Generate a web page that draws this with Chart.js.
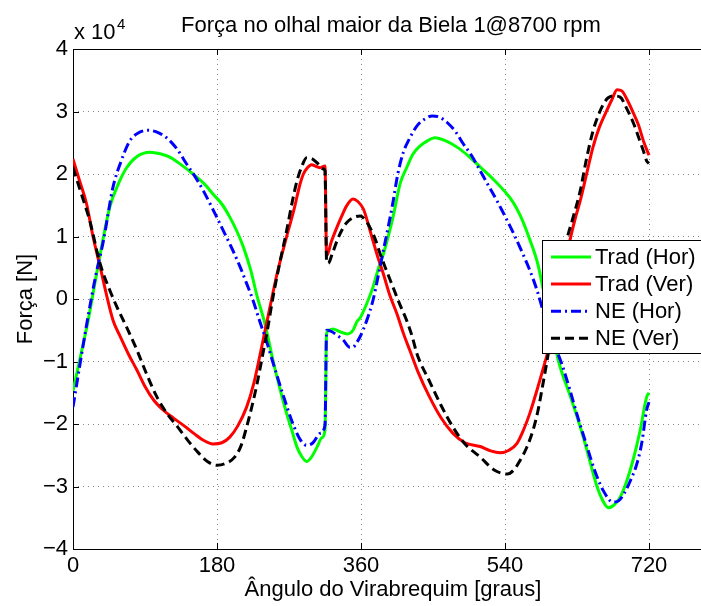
<!DOCTYPE html>
<html>
<head>
<meta charset="utf-8">
<script src="https://cdn.jsdelivr.net/npm/chart.js@4"></script>
<style>
  body { margin: 0; overflow: hidden; background: #fff; }
</style>
</head>
<body>
<canvas id="forca" width="720" height="606"></canvas>
<script>
// angles in degrees, forces in N (axis shows x 10^4)
const tradHorAng = [0, 10, 19, 23, 31, 46, 57, 67, 80, 96, 110, 121, 135, 150, 165, 175, 186, 196, 205, 213, 222, 230, 240, 251, 260, 267, 274, 280, 286, 292, 298, 305, 311, 315, 317, 320, 325, 333, 343, 350, 355, 359, 367, 375, 382, 388, 394, 400, 409, 417, 425, 434, 443, 452, 466, 480, 495, 510, 525, 539, 550, 560, 571, 581, 588, 597, 607, 622, 631, 639, 647, 655, 662, 669, 676, 684, 692, 700, 709, 717, 720];
const tradHorVal = [-14700, -8800, -3400, -600, 5100, 14700, 18500, 21000, 22800, 23500, 23200, 22700, 21500, 20000, 18300, 16800, 15200, 13100, 10800, 8300, 4700, 500, -4000, -10400, -15000, -18300, -21200, -23700, -25200, -26000, -25300, -23700, -22200, -21000, -5500, -5000, -4800, -5200, -5600, -5000, -3600, -3000, -800, 1900, 5000, 7200, 10000, 13100, 18500, 21000, 23200, 24500, 25300, 25800, 25300, 24300, 22800, 21000, 19200, 17300, 15500, 13100, 9500, 5600, 1400, -4000, -10000, -15700, -19200, -22600, -26400, -30000, -32200, -33400, -33000, -31700, -29200, -25800, -21000, -15700, -15000];

const tradVerAng = [0, 8, 17, 25, 34, 42, 50, 59, 70, 80, 90, 101, 113, 126, 139, 151, 163, 175, 186, 196, 206, 217, 226, 234, 241, 248, 255, 266, 277, 283, 288, 293, 298, 304, 309, 315, 317, 323, 330, 336, 342, 350, 356, 363, 369, 375, 381, 388, 396, 405, 413, 421, 432, 445, 460, 475, 490, 509, 522, 534, 545, 555, 563, 571, 579, 586, 594, 601, 608, 614, 621, 628, 634, 642, 650, 658, 667, 674, 680, 686, 693, 701, 707, 713, 720];
const tradVerVal = [22400, 19000, 15200, 10000, 5100, 600, -3400, -6000, -9000, -11400, -14000, -16200, -17800, -19100, -20300, -21500, -22600, -23200, -23000, -22100, -20300, -17300, -13500, -8800, -4500, -200, 4000, 9500, 14700, 18000, 20000, 21000, 21500, 21200, 21000, 21300, 6900, 9200, 11500, 13300, 14900, 16000, 15600, 14400, 12000, 9300, 6700, 4000, 600, -2400, -5500, -8200, -11900, -15500, -19000, -21500, -23000, -23600, -24300, -24600, -24200, -23100, -21000, -18300, -15000, -11900, -8200, -4000, 500, 5000, 9300, 13000, 15700, 20000, 24300, 27500, 30100, 32000, 33500, 33300, 31800, 29600, 27800, 25300, 23000];

const neHorAng = [0, 8, 18, 28, 38, 50, 60, 71, 82, 94, 105, 117, 130, 142, 153, 163, 175, 188, 199, 209, 217, 225, 233, 242, 251, 263, 275, 284, 292, 300, 309, 315, 317, 323, 330, 338, 346, 350, 355, 359, 367, 375, 382, 388, 394, 400, 406, 413, 420, 430, 440, 449, 458, 468, 478, 488, 498, 509, 520, 530, 541, 551, 561, 571, 580, 590, 600, 611, 621, 631, 641, 652, 663, 675, 682, 689, 697, 705, 711, 717, 720];
const neHorVal = [-17300, -11000, -3400, 3500, 9300, 17900, 22000, 25300, 26600, 27000, 26700, 25800, 24000, 21600, 19500, 17300, 14300, 10900, 8000, 5100, 2500, -200, -3400, -6800, -10600, -15500, -20000, -22500, -23400, -23000, -21500, -20200, -5000, -5200, -5800, -6600, -7700, -7700, -6900, -6000, -3500, -200, 4000, 7800, 11500, 15500, 20000, 23500, 25500, 27700, 28800, 29300, 29100, 28200, 26800, 24800, 23000, 20500, 18000, 15700, 13000, 10400, 7600, 4600, 1400, -3000, -6800, -10400, -14500, -18900, -23000, -27400, -30700, -32500, -32300, -31100, -29000, -26300, -23000, -17800, -16500];

const neVerAng = [0, 10, 21, 34, 46, 55, 67, 80, 92, 105, 118, 131, 144, 156, 168, 180, 191, 202, 210, 217, 224, 230, 237, 243, 250, 258, 267, 274, 280, 286, 292, 298, 305, 313, 315, 317, 319, 324, 330, 336, 342, 350, 359, 365, 371, 378, 384, 392, 400, 408, 417, 424, 430, 445, 460, 475, 490, 509, 527, 543, 552, 559, 567, 575, 581, 586, 594, 600, 606, 611, 617, 625, 634, 642, 650, 657, 663, 669, 675, 684, 692, 701, 708, 713, 717, 720];
const neVerVal = [21000, 17000, 12500, 5600, 1400, -1300, -4500, -8200, -12000, -15700, -18400, -20500, -22700, -24500, -26000, -26600, -26300, -25300, -23500, -20500, -17000, -13600, -9000, -5000, 300, 5500, 10900, 15500, 18900, 21200, 22600, 22500, 21800, 20800, 20500, 6000, 5700, 7200, 9300, 11000, 12200, 13000, 13300, 12700, 11500, 9500, 7200, 4500, 1900, -700, -3400, -6000, -8800, -13000, -17000, -20500, -23200, -25300, -27400, -28000, -27200, -25800, -23800, -21000, -18000, -14600, -8800, -4000, 500, 5000, 9300, 13000, 17300, 22500, 26900, 29500, 31200, 32200, 32500, 32300, 30500, 28000, 25500, 23700, 22100, 21700];

const xTicks = [0, 180, 360, 540, 720];
const seriesNames = ['Trad (Hor)', 'Trad (Ver)', 'NE (Hor)', 'NE (Ver)'];

const FONT = "'Liberation Sans', Arial, Helvetica, sans-serif";

function pts(ang, val) {
  return ang.map((a, i) => ({x: a, y: val[i]}));
}

const styles = [
  {color: '#00ff00', dash: []},
  {color: '#ff0000', dash: []},
  {color: '#0000ff', dash: [10, 4, 2, 4]},
  {color: '#000000', dash: [9, 5]}
];

// box, inner ticks, title and legend like the matlab figure
const matlabFrame = {
  id: 'matlabFrame',
  beforeDatasetsDraw(chart) {
    const {ctx, chartArea: a, scales: {x, y}} = chart;
    ctx.save();
    ctx.strokeStyle = '#000';
    ctx.lineWidth = 1;
    ctx.strokeRect(a.left + 0.5, a.top + 0.5, a.right - a.left, a.bottom - a.top);
    ctx.beginPath();
    xTicks.forEach(v => {
      const px = Math.round(x.getPixelForValue(v)) + 0.5;
      ctx.moveTo(px, a.bottom); ctx.lineTo(px, a.bottom - 6);
      ctx.moveTo(px, a.top); ctx.lineTo(px, a.top + 6);
    });
    y.ticks.forEach(t => {
      const py = Math.round(y.getPixelForValue(t.value)) + 0.5;
      ctx.moveTo(a.left, py); ctx.lineTo(a.left + 6, py);
      ctx.moveTo(a.right, py); ctx.lineTo(a.right - 6, py);
    });
    ctx.stroke();
    ctx.restore();
  },
  afterDraw(chart) {
    const {ctx} = chart;
    ctx.save();
    ctx.fillStyle = '#000';
    ctx.textBaseline = 'alphabetic';
    ctx.textAlign = 'center';
    ctx.font = '22px ' + FONT;
    ctx.fillText('Força no olhal maior da Biela 1@8700 rpm', 391, 32);
    ctx.textAlign = 'left';
    ctx.fillText('x 10', 74, 39);
    ctx.font = '15px ' + FONT;
    ctx.fillText('4', 117, 29);

    // legend
    const lx = 542, ly = 240;
    ctx.fillStyle = '#fff';
    ctx.fillRect(lx, ly, 180, 113);
    ctx.strokeStyle = '#000';
    ctx.lineWidth = 1;
    ctx.strokeRect(lx + 0.5, ly + 0.5, 180, 113);
    ctx.font = '22px ' + FONT;
    ctx.textBaseline = 'middle';
    seriesNames.forEach((name, i) => {
      const yy = 257 + 27.1 * i;
      ctx.strokeStyle = styles[i].color;
      ctx.lineWidth = 3;
      ctx.setLineDash(styles[i].dash);
      ctx.beginPath();
      ctx.moveTo(551, yy); ctx.lineTo(591, yy);
      ctx.stroke();
      ctx.setLineDash([]);
      ctx.fillStyle = '#000';
      ctx.fillText(name, 595, yy + 1);
    });
    ctx.restore();
  }
};

const dataLists = [
  [tradHorAng, tradHorVal],
  [tradVerAng, tradVerVal],
  [neHorAng, neHorVal],
  [neVerAng, neVerVal]
];

new Chart(document.getElementById('forca'), {
  type: 'line',
  data: {
    datasets: dataLists.map((d, i) => ({
      label: seriesNames[i],
      data: pts(d[0], d[1]),
      borderColor: styles[i].color,
      borderDash: styles[i].dash,
      borderWidth: 3,
      pointRadius: 0,
      cubicInterpolationMode: 'monotone',
      fill: false,
      order: 4 - i
    }))
  },
  options: {
    responsive: false,
    devicePixelRatio: 1,
    animation: false,
    layout: {padding: {top: 49, right: 7, left: 0, bottom: 0}},
    plugins: {legend: {display: false}, tooltip: {enabled: false}, title: {display: false}},
    scales: {
      x: {
        type: 'linear',
        min: 0,
        max: 800,
        afterBuildTicks: s => { s.ticks = xTicks.map(v => ({value: v})); },
        afterFit: s => { s.height = 57; },
        ticks: {color: '#000', font: {family: FONT, size: 22}, padding: 4, maxRotation: 0},
        grid: {color: '#888', lineWidth: 1, drawTicks: false},
        border: {display: false, dash: [1, 4]},
        title: {display: true, text: 'Ângulo do Virabrequim [graus]', color: '#000',
                font: {family: FONT, size: 22}, padding: {top: 0, bottom: 3}}
      },
      y: {
        min: -40000,
        max: 40000,
        afterFit: s => { s.width = 73; },
        ticks: {
          stepSize: 10000,
          color: '#000',
          font: {family: FONT, size: 22},
          padding: 5,
          callback: v => (v < 0 ? '\u2212' : '') + Math.abs(v / 10000)
        },
        grid: {color: '#888', lineWidth: 1, drawTicks: false},
        border: {display: false, dash: [1, 4]},
        title: {display: true, text: 'Força [N]', color: '#000',
                font: {family: FONT, size: 22}, padding: {top: 13, bottom: 0}}
      }
    }
  },
  plugins: [matlabFrame]
});
</script>
</body>
</html>
